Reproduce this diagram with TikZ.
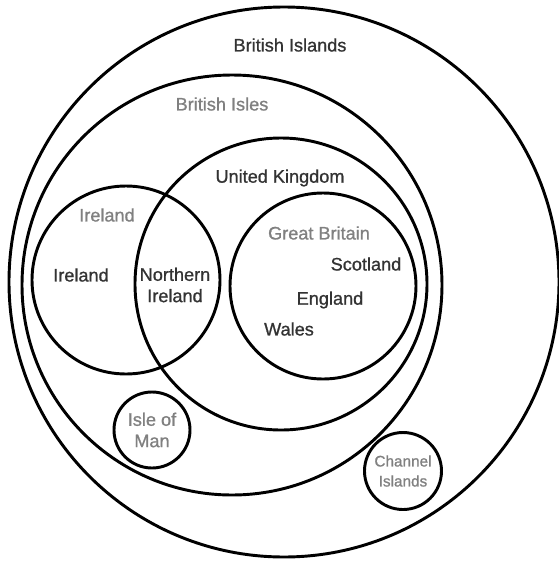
\documentclass[tikz,border=0pt]{standalone}
\usepackage{fontspec}
\setmainfont{Liberation Sans}[FakeBold=1.0]
\usetikzlibrary{positioning}

\definecolor{darktext}{HTML}{333333}
\definecolor{greytext}{HTML}{808080}

\begin{document}
\begin{tikzpicture}[
    x=0.75pt, y=-0.75pt,
    region/.style={circle, draw, line width=2.2pt, minimum size=#1*1.5pt, inner sep=0pt},
    country/.style={text=darktext, font=\fontsize{13.6}{16}\selectfont, align=center},
    collection/.style={text=greytext, font=\fontsize{13.6}{16}\selectfont, align=center}
]
\useasboundingbox (0,0) rectangle (559,565);

% nested areas
\node[region=275] (islands) at (284,282) {};
\node[region=210] (isles) at (232,285) {};
\node[region=146] (uk) at (281,284) {};
\node[region=94] (ireland) at (126,280) {};
\node[region=93] (gb) at (323,286) {};
\node[region=38, collection] (man) at (152,430) {Isle of\\Man};
\node[region=38.5, collection, font=\fontsize{11.5}{15}\selectfont] (channel) at (403,471) {Channel\\Islands};

% labels
\node[country] (islandslbl) at (290,45) {British Islands};
\node[collection] (isleslbl) at (222,104) {British Isles};
\node[country] (uklbl) at (280,178) {United Kingdom};
\node[collection] (irelandlbl) at (107,215) {Ireland};
\node[country] (republic) at (81,275) {Ireland};
\node[country] (ni) at (175,285) {Northern\\Ireland};
\node[collection] (gblbl) at (319,233) {Great Britain};
\node[country] (scotland) at (366,264) {Scotland};
\node[country] (england) at (330,300) {England};
\node[country] (wales) at (289,329) {Wales};
\end{tikzpicture}
\end{document}
